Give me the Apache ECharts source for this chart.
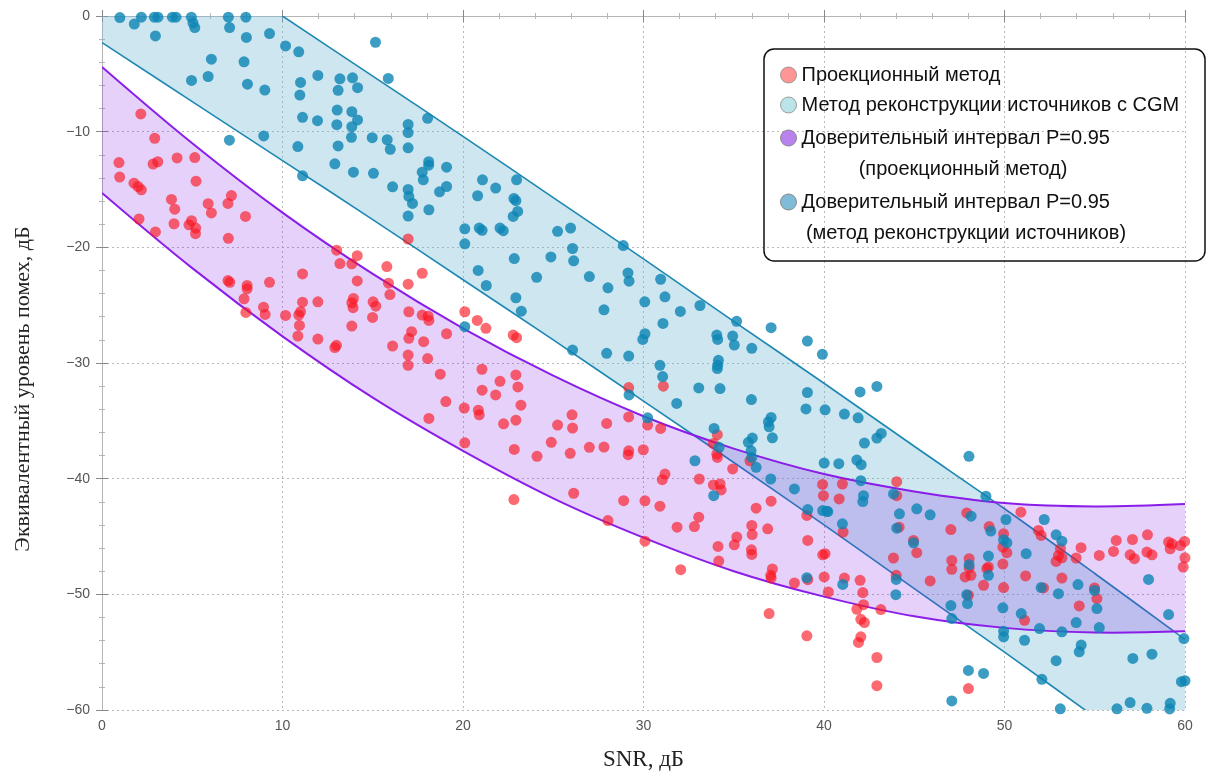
<!DOCTYPE html>
<html>
<head>
<meta charset="utf-8">
<script src="https://cdn.jsdelivr.net/npm/echarts@6/dist/echarts.min.js"></script>
<style>
  html, body { margin: 0; padding: 0; background: #fff; }
  #chart { width: 1216px; height: 776px; }
</style>
</head>
<body>
<div id="chart"></div>
<script>
// scatter: projection method (red)
const projPoints = [
  [2.15, -8.47], [2.92, -10.57], [0.94, -12.67], [2.83, -12.8], [3.09, -12.6], [4.16, -12.27], [5.14, -12.24],
  [0.98, -13.93], [1.77, -14.45], [2.0, -14.74], [2.18, -15.03], [5.21, -14.28], [3.85, -15.86], [4.03, -16.7],
  [5.88, -16.23], [6.06, -17.03], [6.98, -16.2], [7.17, -15.52], [7.95, -17.33], [2.05, -17.55], [4.96, -17.7],
  [4.82, -18.05], [5.19, -18.33], [5.18, -18.82], [3.99, -17.96], [2.96, -18.67], [7.0, -19.22], [16.96, -19.28],
  [13.0, -20.25], [14.14, -20.72], [13.18, -21.4], [13.84, -21.43], [15.78, -21.66], [17.74, -22.24], [11.11, -22.3],
  [6.98, -22.87], [7.08, -23.02], [8.04, -23.3], [8.04, -23.59], [9.28, -23.02], [14.14, -22.9], [15.87, -23.1],
  [16.96, -23.19], [15.95, -24.08], [7.87, -24.45], [7.97, -25.63], [8.95, -25.17], [9.04, -25.8], [10.17, -25.89],
  [11.11, -24.74], [11.96, -24.71], [11.0, -25.57], [10.9, -25.86], [10.94, -26.75], [10.85, -27.67], [11.96, -27.93],
  [12.99, -28.47], [12.9, -28.67], [13.93, -24.42], [13.84, -24.79], [13.91, -25.22], [15.02, -24.71], [15.17, -25.09],
  [14.99, -26.06], [13.84, -26.81], [17.0, -25.57], [17.74, -25.86], [18.07, -25.95], [18.11, -26.32], [17.15, -27.29],
  [17.0, -27.87], [19.09, -27.47], [17.82, -28.16], [16.1, -28.53], [16.96, -29.31], [16.96, -30.2], [18.04, -29.62],
  [18.74, -30.97], [19.05, -33.33], [18.11, -34.79], [20.1, -25.57], [20.07, -33.9], [20.1, -36.9],
  [20.79, -26.32], [21.27, -27.0], [22.78, -27.59], [22.97, -27.81], [21.05, -30.54], [22.05, -31.58], [22.93, -31.03],
  [23.04, -32.07], [21.06, -32.35], [21.81, -32.76], [23.21, -33.65], [20.85, -34.08], [20.9, -34.48], [22.25, -35.26],
  [22.93, -34.94], [22.84, -37.47], [24.1, -38.07], [24.89, -36.86], [25.24, -35.37], [26.04, -34.48], [26.07, -35.63],
  [25.94, -37.81], [27.0, -37.29], [27.81, -37.27], [27.96, -35.22], [29.18, -32.12], [31.1, -32.0], [29.18, -34.66],
  [29.18, -37.59], [29.15, -37.93], [29.99, -37.5], [30.23, -35.37], [30.95, -35.66], [34.09, -36.2], [33.87, -36.95],
  [34.06, -37.87], [34.09, -38.16], [34.94, -39.16], [35.9, -38.45], [31.19, -39.6], [31.04, -40.09], [33.09, -40.03],
  [39.92, -40.5],
  [22.82, -41.81], [26.13, -41.26], [28.9, -41.9], [30.08, -41.92], [30.91, -42.38], [33.87, -40.54], [34.24, -40.46],
  [34.3, -40.97], [28.03, -43.62], [30.08, -45.4], [31.86, -44.19], [32.82, -44.14], [33.06, -43.33], [32.06, -47.87],
  [34.13, -45.86], [34.17, -47.12], [35.03, -45.72], [35.17, -45.05], [36.0, -44.05], [36.02, -44.83], [35.98, -46.15],
  [36.0, -46.55], [36.24, -42.55], [37.07, -41.95], [36.88, -44.34], [37.14, -47.81], [37.05, -48.36], [37.07, -48.59],
  [38.36, -49.02], [36.96, -51.66], [39.05, -53.59], [39.05, -43.18], [39.1, -45.34], [39.1, -48.73], [39.97, -41.47],
  [39.93, -46.58], [40.01, -48.5],
  [41.02, -40.46], [44.03, -40.26], [44.03, -41.47], [40.84, -41.75], [41.06, -44.62], [40.06, -46.49], [41.13, -48.59],
  [40.24, -49.79], [42.0, -48.79], [42.15, -49.85], [42.19, -50.89], [41.82, -51.29], [42.04, -52.16], [42.24, -52.44],
  [42.04, -53.67], [41.91, -54.16], [42.93, -55.46], [42.93, -57.9], [43.15, -51.32], [43.85, -46.86], [44.0, -48.36],
  [44.16, -44.19], [44.96, -45.34], [45.14, -46.4], [45.88, -48.84], [47.03, -44.4], [47.08, -47.07], [47.08, -47.84],
  [47.91, -42.96], [48.04, -46.92], [48.04, -47.72], [47.82, -48.5], [48.14, -48.36], [48.0, -50.08], [48.84, -49.22],
  [49.02, -47.78], [49.11, -47.64], [49.15, -44.14], [49.95, -44.77], [49.91, -45.91], [50.13, -46.4], [49.91, -47.38],
  [49.95, -49.42], [51.17, -48.41], [51.11, -52.24], [50.91, -42.9], [51.88, -44.48], [52.03, -44.91], [52.16, -49.45],
  [52.99, -46.64], [53.18, -46.84], [52.86, -47.16], [53.1, -46.06], [53.18, -48.59], [53.97, -46.86], [54.24, -45.97],
  [54.14, -51.0], [54.99, -49.45], [55.12, -50.37], [55.25, -46.64], [56.04, -46.29], [56.19, -45.34], [56.96, -46.58],
  [57.2, -46.92], [57.09, -45.26], [57.92, -44.85], [57.89, -46.35], [58.17, -46.58], [59.09, -45.48], [59.18, -46.06],
  [59.28, -45.63], [59.74, -45.78], [59.98, -45.43], [60.0, -46.84], [59.9, -47.64], [48.0, -58.15]
]

// scatter: source reconstruction with CGM (blue)
const reconPoints = [
  [0.99, -0.14], [1.79, -0.7], [2.18, -0.1], [2.9, -0.1], [3.1, -0.1], [2.96, -1.72], [3.9, -0.1], [4.1, -0.1],
  [4.95, -0.1], [5.04, -0.6], [5.14, -1.0], [7.0, -0.1], [7.07, -1.0], [7.97, -0.1], [8.0, -1.85], [9.28, -1.52],
  [10.17, -2.59], [10.9, -3.1], [15.15, -2.27], [6.06, -3.73], [7.87, -3.96], [4.96, -5.57], [5.88, -5.23], [8.06, -5.89],
  [9.02, -6.4], [11.0, -5.74], [10.96, -6.84], [11.96, -5.14], [13.18, -5.43], [13.88, -5.34], [14.16, -6.2], [13.08, -6.43],
  [15.86, -5.4], [11.11, -8.76], [11.94, -9.05], [13.03, -8.13], [13.84, -8.27], [14.16, -8.99], [13.01, -9.4], [13.84, -9.57],
  [18.04, -8.85], [16.96, -9.37], [16.96, -10.08], [7.06, -10.74], [8.96, -10.37], [10.85, -11.29], [13.08, -11.23],
  [13.82, -10.49], [14.97, -10.52], [15.8, -10.7], [15.97, -11.52], [16.96, -11.4], [18.1, -12.6], [18.1, -12.9],
  [19.09, -13.07], [12.9, -12.78], [13.93, -13.5], [15.04, -13.6], [11.11, -13.82], [17.74, -13.5], [17.8, -14.16],
  [16.1, -14.77], [16.96, -15.0], [17.0, -15.6], [17.2, -16.2], [18.7, -15.2], [19.09, -14.74], [18.11, -16.75],
  [16.96, -17.3], [20.1, -18.4], [20.1, -19.7],
  [21.08, -14.16], [21.81, -14.88], [20.81, -15.54], [22.97, -14.16], [22.82, -15.77], [22.93, -15.97], [23.03, -16.9],
  [22.78, -17.33], [20.9, -18.33], [21.06, -18.53], [22.05, -18.33], [22.23, -18.56], [25.24, -18.62], [25.96, -18.33],
  [26.07, -20.1], [28.88, -19.85],
  [22.84, -20.97], [24.87, -20.83], [26.13, -21.17], [20.84, -22.0], [24.08, -22.59], [27.0, -22.53], [29.14, -22.21],
  [29.2, -22.93], [21.29, -23.3], [28.03, -23.5], [30.95, -22.76], [22.93, -24.36], [23.23, -25.52], [27.81, -25.4],
  [30.07, -24.71], [31.19, -24.28], [32.04, -25.54], [33.13, -25.03], [31.08, -26.58], [35.16, -26.4], [37.07, -26.95],
  [30.08, -27.47], [29.96, -27.96], [34.06, -27.59], [34.11, -27.96], [34.94, -27.67], [35.03, -28.45], [36.0, -28.73],
  [39.08, -28.1], [39.91, -29.25], [26.07, -28.88], [27.96, -29.16], [29.18, -29.4], [30.91, -30.2], [31.06, -31.17],
  [34.15, -29.77], [34.11, -30.2], [34.09, -30.48], [33.06, -32.16], [34.24, -32.21], [29.2, -32.76], [31.84, -33.5],
  [35.98, -33.16], [39.08, -32.55], [39.0, -33.97], [40.06, -34.05], [30.23, -34.74], [37.07, -34.71], [36.92, -35.09],
  [36.96, -35.52], [37.14, -36.47], [33.91, -35.66], [34.19, -37.29], [36.03, -36.49], [35.81, -36.86], [35.96, -37.59],
  [36.0, -38.16], [36.24, -39.02], [32.85, -38.45], [37.05, -40.03], [40.01, -38.65], [20.1, -26.86],
  [42.0, -32.5], [42.93, -32.03], [41.13, -34.42], [41.89, -34.74], [42.24, -36.92], [42.93, -36.49], [43.17, -36.09],
  [40.82, -38.7], [41.82, -38.39], [42.06, -38.79], [48.03, -38.07],
  [38.36, -40.89], [33.89, -41.47], [39.1, -42.67], [39.93, -42.76], [40.15, -42.81], [39.05, -48.56],
  [42.04, -40.17], [42.19, -41.47], [42.15, -41.98], [40.21, -42.84], [41.02, -43.9], [41.04, -49.14], [43.85, -41.32],
  [44.18, -43.04], [45.14, -42.61], [45.88, -43.13], [44.03, -44.28], [44.96, -45.54], [44.0, -48.71], [43.98, -50.03],
  [47.03, -50.97], [47.08, -52.1], [48.0, -56.58], [48.84, -56.84], [47.08, -59.22], [48.15, -43.24], [48.97, -41.52],
  [49.24, -44.53], [49.11, -46.69], [49.11, -48.36], [48.04, -47.44], [47.91, -50.03], [47.95, -50.8], [50.08, -43.53],
  [49.95, -45.28], [50.13, -45.54], [49.91, -51.17], [49.95, -53.19], [49.95, -53.67], [50.93, -51.66], [51.11, -53.97],
  [51.2, -46.49], [52.07, -57.35], [51.94, -52.96], [52.03, -49.42], [52.2, -43.53], [52.86, -44.85], [53.18, -45.4],
  [52.99, -49.94], [53.18, -53.24], [52.86, -55.74], [53.09, -59.9], [53.97, -52.44], [54.07, -49.16], [54.25, -54.39],
  [54.14, -54.97], [54.99, -49.66], [55.12, -51.23], [55.25, -52.87], [56.23, -59.9], [56.96, -59.36], [57.11, -55.54],
  [58.17, -55.17], [57.98, -48.71], [57.89, -59.85], [59.09, -51.75], [59.18, -59.42], [59.15, -59.91], [59.94, -53.82],
  [59.8, -57.55], [60.0, -57.47]
]

// confidence bands, every 5 dB
const bandX = [0, 5, 10, 15, 20, 25, 30, 35, 40, 45, 50, 55, 60]
const projUpper = [-4.4, -11.0, -17.0, -22.3, -27.0, -31.1, -34.6, -37.4, -39.6, -41.1, -42.1, -42.4, -42.2]
const projLower = [-15.3, -21.8, -27.7, -33.0, -37.6, -41.7, -45.1, -48.0, -50.2, -51.9, -52.9, -53.3, -53.2]
const reconUpper = [10.3, 5.2, 0, -5.2, -10.4, -15.7, -21.0, -26.4, -31.75, -37.2, -42.6, -48.2, -53.9]
const reconLower = [-2.3, -7.4, -12.5, -17.6, -22.8, -28.0, -33.3, -38.6, -44.0, -49.5, -55.0, -60.6, -66.2]

const xTicks = [0, 10, 20, 30, 40, 50, 60]
const yTicks = [-60, -50, -40, -30, -20, -10, 0]

const nameProj = 'Проекционный метод'
const nameRecon = 'Метод реконструкции источников с CGM'
const nameProjBand = 'Доверительный интервал P=0.95\n(проекционный метод)'
const nameReconBand = 'Доверительный интервал P=0.95\n(метод реконструкции источников)'

const minus = v => (v < 0 ? '\u2212' + Math.abs(v) : String(v))

const frameColor = '#b5b5b5'
const tickFont = { color: '#555', fontSize: 14, fontFamily: 'Liberation Sans' }
const legendFont = { color: '#111', fontSize: 20, fontFamily: 'Liberation Sans', lineHeight: 22 }

function legendAt(name, top, color) {
  return {
    orient: 'vertical',
    left: 780,
    top: top,
    padding: 0,
    itemWidth: 16,
    itemHeight: 16,
    selectedMode: false,
    textStyle: legendFont,
    formatter: n => n.split('\n')[0],
    data: [{
      name: name,
      icon: 'circle',
      itemStyle: { color: color, borderColor: '#8a8a8a', borderWidth: 1 }
    }]
  }
}

// filled band between two sampled curves, drawn through the axes' scales
function band(name, upper, lower, fill, stroke, width, z) {
  return {
    name: name,
    type: 'custom',
    clip: true,
    z: z,
    data: [[bandX[0], lower[0]]],
    renderItem: function(params, api) {
      const top = bandX.map((x, i) => api.coord([x, upper[i]]))
      const bottom = bandX.map((x, i) => api.coord([x, lower[i]]))
      const cs = params.coordSys
      return {
        type: 'group',
        clipPath: { type: 'rect', shape: { x: cs.x, y: cs.y, width: cs.width, height: cs.height } },
        children: [
          { type: 'polygon', shape: { points: top.concat(bottom.slice().reverse()) }, style: { fill: fill } },
          { type: 'polyline', shape: { points: top, smooth: 0.35 }, style: { fill: null, stroke: stroke, lineWidth: width } },
          { type: 'polyline', shape: { points: bottom, smooth: 0.35 }, style: { fill: null, stroke: stroke, lineWidth: width } }
        ]
      }
    }
  }
}

const chart = echarts.init(document.getElementById('chart'))
chart.setOption({
  animation: false,
  backgroundColor: '#fff',
  grid: { left: 102, right: 31, top: 16, bottom: 64 },
  legend: [
    legendAt(nameProj, 64, '#ff7b7b'),
    legendAt(nameRecon, 94, '#a9dde2'),
    legendAt(nameProjBand, 127, '#b983ef'),
    legendAt(nameReconBand, 191, '#80bcd8')
  ],
  graphic: [
    {
      type: 'rect', x: 764, y: 49, z: 10,
      shape: { x: 0, y: 0, width: 441, height: 212, r: 10 },
      style: { fill: 'none', stroke: '#111', lineWidth: 1.5 }
    },
    {
      type: 'text', x: 963, y: 169, z: 10,
      style: { text: nameProjBand.split('\n')[1], align: 'center', verticalAlign: 'middle',
        fill: '#111', font: '20px "Liberation Sans"' }
    },
    {
      type: 'text', x: 966, y: 233, z: 10,
      style: { text: nameReconBand.split('\n')[1], align: 'center', verticalAlign: 'middle',
        fill: '#111', font: '20px "Liberation Sans"' }
    }
  ],
  xAxis: [{
    type: 'value',
    min: xTicks[0],
    max: xTicks[xTicks.length - 1],
    interval: 10,
    name: 'SNR, дБ',
    nameLocation: 'middle',
    nameGap: 38,
    nameTextStyle: { fontFamily: 'Liberation Serif', fontSize: 23, color: '#222' },
    axisLine: { lineStyle: { color: frameColor, width: 1 } },
    axisTick: { inside: true, length: 6, lineStyle: { color: '#888' } },
    minorTick: { show: true, splitNumber: 5, length: 3, lineStyle: { color: frameColor } },
    axisLabel: Object.assign({ margin: 9 }, tickFont),
    splitLine: { show: true, lineStyle: { color: '#b8b8b8', type: [2, 3], width: 1 } }
  }, {
    type: 'value',
    position: 'top',
    min: xTicks[0],
    max: xTicks[xTicks.length - 1],
    interval: 10,
    axisLine: { lineStyle: { color: frameColor, width: 1 } },
    axisTick: { inside: true, length: 6, lineStyle: { color: '#888' } },
    minorTick: { show: true, splitNumber: 5, length: 3, lineStyle: { color: frameColor } },
    axisLabel: { show: false },
    splitLine: { show: false }
  }],
  yAxis: [{
    type: 'value',
    min: yTicks[0],
    max: yTicks[yTicks.length - 1],
    interval: 10,
    name: 'Эквивалентный уровень помех, дБ',
    nameLocation: 'middle',
    nameGap: 68,
    nameTextStyle: { fontFamily: 'Liberation Serif', fontSize: 22, color: '#222', padding: [0, 52, 0, 0] },
    axisLine: { show: true, lineStyle: { color: frameColor, width: 1 } },
    axisTick: { show: true, inside: true, length: 6, lineStyle: { color: '#888' } },
    minorTick: { show: true, splitNumber: 5, length: 3, lineStyle: { color: frameColor } },
    axisLabel: Object.assign({ margin: 12, formatter: minus }, tickFont),
    splitLine: { show: true, lineStyle: { color: '#b8b8b8', type: [2, 3], width: 1 } }
  }, {
    type: 'value',
    position: 'right',
    min: yTicks[0],
    max: yTicks[yTicks.length - 1],
    interval: 10,
    axisLine: { show: true, lineStyle: { color: frameColor, width: 1 } },
    axisTick: { show: true, inside: true, length: 6, lineStyle: { color: '#888' } },
    minorTick: { show: true, splitNumber: 5, length: 3, lineStyle: { color: frameColor } },
    axisLabel: { show: false },
    splitLine: { show: false }
  }],
  series: [
    band(nameReconBand, reconUpper, reconLower, 'rgba(112,184,212,0.35)', '#1d88b2', 1.6, 1),
    band(nameProjBand, projUpper, projLower, 'rgba(125,25,230,0.2)', '#8a1de8', 2, 2),
    {
      name: nameProj,
      type: 'scatter',
      symbolSize: 11,
      itemStyle: { color: 'rgba(250,20,32,0.8)' },
      data: projPoints,
      z: 3
    },
    {
      name: nameRecon,
      type: 'scatter',
      symbolSize: 11,
      itemStyle: { color: '#0d84b4' },
      data: reconPoints,
      z: 4
    }
  ]
})
</script>
</body>
</html>
